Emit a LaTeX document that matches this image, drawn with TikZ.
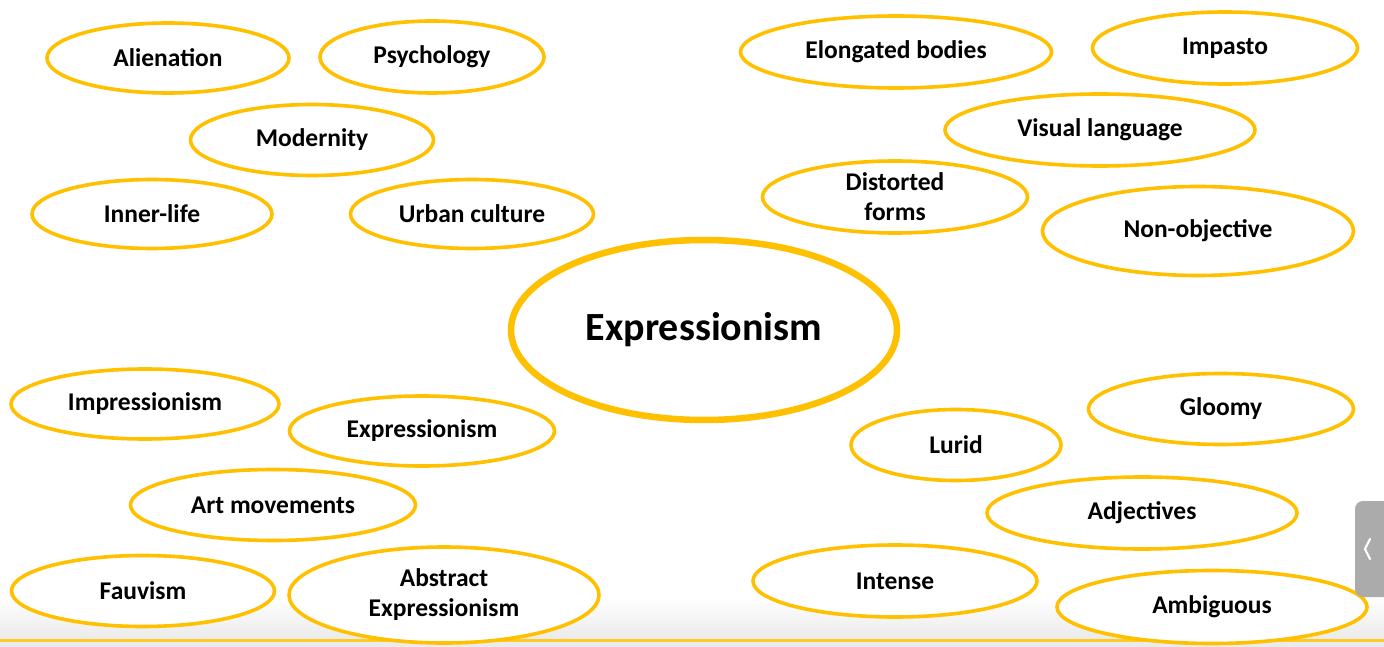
\documentclass[tikz,border=0pt]{standalone}
\usepackage{fontspec}
\setmainfont{Carlito}
\usetikzlibrary{shapes.geometric}
\definecolor{gold}{HTML}{FFC000}
\definecolor{tabgray}{HTML}{ABABAB}
\tikzset{
  bub/.style={ellipse, draw=gold, line width=3.6pt, fill=white, inner sep=0pt,
    font=\fontsize{25.5}{30}\selectfont\bfseries, align=center, text=black},
  bigbub/.style={bub, line width=6.5pt, font=\fontsize{40}{46}\selectfont\bfseries}
}
\newcommand{\bb}[5]{\node[bub, minimum width=#3pt, minimum height=#4pt] (#5) at (#1,#2)}
\begin{document}
\begin{tikzpicture}[x=1pt,y=-1pt]
\useasboundingbox (0,0) rectangle (1384,647);
% background with bottom fade
\fill[white] (0,0) rectangle (1384,647);
\shade[top color=white, bottom color=black!8] (0,598) rectangle (1384,638);
\fill[black!8] (0,638) rectangle (1384,647);
\draw[gold!85!white, line width=3pt] (0,640.5) -- (1384,640.5);
% left top group
\bb{168}{58}{242}{70}{alien} {Alienation};
\bb{432}{57}{224}{72}{psych} {Psychology};
\bb{312}{140}{243}{71}{modern} {Modernity};
\bb{152}{214}{240}{69}{inner} {Inner-life};
\bb{472}{214}{243}{69}{urban} {Urban culture};
% right top group
\bb{896}{52}{311}{72}{elong} {Elongated bodies};
\bb{1225}{48}{265}{72}{impasto} {Impasto};
\bb{1100}{130}{310}{72}{visual} {Visual language};
\bb{895}{197}{265}{72}{distort} {Distorted\\forms};
\bb{1198}{231}{311}{89}{nonobj} {Non-objective};
% centre
\node[bigbub, minimum width=386pt, minimum height=180pt] (centre) at (704,330) {Expressionism};
% left bottom group
\bb{145}{404}{268}{70}{impress} {Impressionism};
\bb{422}{431}{265}{70}{express} {Expressionism};
\bb{273}{505}{285}{71}{artmov} {Art movements};
\bb{143}{591}{263}{71}{fauv} {Fauvism};
\bb{444}{595}{310}{96}{abstract} {Abstract\\Expressionism};
% right bottom group
\bb{1221}{409}{265}{71}{gloomy} {Gloomy};
\bb{956}{445}{210}{71}{lurid} {Lurid};
\bb{1142}{513}{310}{72}{adject} {Adjectives};
\bb{895}{581}{284}{72}{intense} {Intense};
\bb{1212}{607}{310}{73}{ambig} {Ambiguous};
% side tab
\fill[tabgray, rounded corners=8pt] (1355,501) rectangle (1392,597);
\draw[white, line width=2.2pt, line cap=round] (1370,539) -- (1365,549) -- (1370,559);
\end{tikzpicture}
\end{document}
